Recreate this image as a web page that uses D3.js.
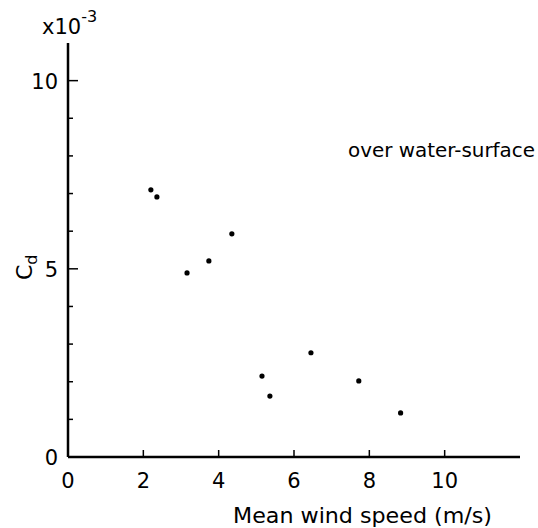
<!DOCTYPE html>
<html>
<head>
    <meta charset="UTF-8">
    <title>Cd over water surface</title>
    <script type="text/javascript" src="https://cdn.jsdelivr.net/npm/d3@7/dist/d3.min.js"></script>
    <style>
        body { margin: 0; background: #fff; }
        text { font-family: "DejaVu Sans", sans-serif; fill: #000; }
    </style>
</head>
<body>
<div class="holder"></div>

<script>
    // wind speed (m/s) vs drag coefficient (x10^-3)
    var windSpeed = [2.20, 2.36, 3.16, 3.74, 4.35, 5.15, 5.36, 6.45, 7.72, 8.83];
    var cd        = [7.10, 6.91, 4.89, 5.21, 5.93, 2.15, 1.62, 2.77, 2.02, 1.17];
    var xTicks = [0, 2, 4, 6, 8, 10];
    var yTicks = [0, 5, 10];
    var yMinor = [1, 2, 3, 4, 6, 7, 8, 9];

    var svg = d3.select(".holder")
            .append("svg")
            .attr("width", 538)
            .attr("height", 528);

    var x = d3.scaleLinear().domain([0, 12]).range([68, 520]);
    var y = d3.scaleLinear().domain([0, 11]).range([457, 43]);

    // axes lines
    svg.append("line")
            .attr("x1", x(0)).attr("x2", x(12))
            .attr("y1", y(0)).attr("y2", y(0))
            .attr("stroke", "black").attr("stroke-width", 2.5);
    svg.append("line")
            .attr("x1", x(0)).attr("x2", x(0))
            .attr("y1", y(0)).attr("y2", y(11))
            .attr("stroke", "black").attr("stroke-width", 2.5);

    // x ticks point up into the plot
    svg.selectAll(".xtick")
            .data(xTicks.filter(function(d) { return d > 0; }))
            .enter()
            .append("line")
            .attr("x1", function(d) { return x(d); })
            .attr("x2", function(d) { return x(d); })
            .attr("y1", y(0)).attr("y2", y(0) - 7)
            .attr("stroke", "black").attr("stroke-width", 1.5);

    svg.selectAll(".xlabel")
            .data(xTicks)
            .enter()
            .append("text")
            .attr("x", function(d) { return x(d); })
            .attr("y", 488)
            .attr("text-anchor", "middle")
            .style("font-size", "21px")
            .text(function(d) { return d; });

    // y ticks point right
    svg.selectAll(".ytick")
            .data(yTicks.filter(function(d) { return d > 0; }))
            .enter()
            .append("line")
            .attr("x1", x(0)).attr("x2", x(0) + 10)
            .attr("y1", function(d) { return y(d); })
            .attr("y2", function(d) { return y(d); })
            .attr("stroke", "black").attr("stroke-width", 1.5);

    svg.selectAll(".yminor")
            .data(yMinor)
            .enter()
            .append("line")
            .attr("x1", x(0)).attr("x2", x(0) + 5)
            .attr("y1", function(d) { return y(d); })
            .attr("y2", function(d) { return y(d); })
            .attr("stroke", "black").attr("stroke-width", 1.5);

    svg.selectAll(".ylabel")
            .data(yTicks)
            .enter()
            .append("text")
            .attr("x", 58)
            .attr("y", function(d) { return y(d) + 8; })
            .attr("text-anchor", "end")
            .style("font-size", "21px")
            .text(function(d) { return d; });

    // exponent note
    var expo = svg.append("text").attr("x", 42).attr("y", 34).style("font-size", "21px");
    expo.append("tspan").text("x10");
    expo.append("tspan").attr("dy", -12).style("font-size", "16px").text("-3");

    // points
    svg.selectAll("circle")
            .data(windSpeed)
            .enter()
            .append("circle")
            .attr("cx", function(d) { return x(d); })
            .attr("cy", function(d, i) { return y(cd[i]); })
            .attr("r", 2.6)
            .attr("fill", "black");

    // titles
    svg.append("text")
            .attr("x", 233).attr("y", 523)
            .attr("textLength", 259).attr("lengthAdjust", "spacingAndGlyphs")
            .style("font-size", "21px")
            .text("Mean wind speed (m/s)");

    var cdLabel = svg.append("text")
            .attr("transform", "translate(32,280) rotate(-90)")
            .style("font-size", "22px");
    cdLabel.append("tspan").text("C");
    cdLabel.append("tspan").attr("dy", 5).style("font-size", "16px").text("d");

    svg.append("text")
            .attr("x", 348).attr("y", 157)
            .attr("textLength", 187).attr("lengthAdjust", "spacingAndGlyphs")
            .style("font-size", "19px")
            .text("over water-surface");
</script>
</body>
</html>
